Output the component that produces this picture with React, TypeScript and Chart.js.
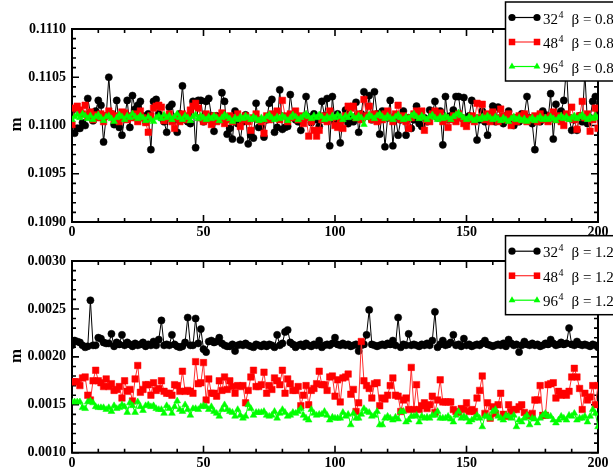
import { useEffect, useRef } from 'react';
import { Chart, registerables } from 'chart.js';

Chart.register(...registerables);

const SERIF = '"Liberation Serif", "Times New Roman", serif';

// ---- data (x = configuration index 0..200) ----
const topBlack = [
  0.11015, 0.10992, 0.10997, 0.10997, 0.11003, 0.11000, 0.11028, 0.11013, 0.11005, 0.11015,
  0.11026, 0.11021, 0.10983, 0.11010, 0.11050, 0.11012, 0.11001, 0.11026, 0.10998, 0.10990,
  0.11008, 0.11026, 0.10998, 0.11031, 0.11017, 0.11021, 0.11025, 0.11010, 0.11004, 0.11012,
  0.10975, 0.11025, 0.11027, 0.11012, 0.11008, 0.11004, 0.10993, 0.11019, 0.11022, 0.11006,
  0.10993, 0.11012, 0.11041, 0.11008, 0.11004, 0.11002, 0.11025, 0.10977, 0.11026, 0.11026,
  0.11004, 0.11025, 0.11028, 0.11010, 0.10994, 0.11010, 0.11006, 0.11034, 0.11025, 0.10991,
  0.10997, 0.10986, 0.11015, 0.11002, 0.10985, 0.11004, 0.11011, 0.10981, 0.10990, 0.10987,
  0.11023, 0.10998, 0.10998, 0.10988, 0.11006, 0.11023, 0.11027, 0.10993, 0.10998, 0.11037,
  0.10996, 0.10998, 0.10999, 0.11032, 0.11011, 0.11006, 0.11004, 0.10995, 0.11008, 0.11030,
  0.11009, 0.11003, 0.11012, 0.11006, 0.10999, 0.11025, 0.11010, 0.11028, 0.10979, 0.11030,
  0.11004, 0.11012, 0.10982, 0.11006, 0.11016, 0.11002, 0.11008, 0.11004, 0.11024, 0.10993,
  0.11012, 0.11035, 0.11010, 0.11031, 0.11006, 0.11035, 0.11012, 0.10991, 0.11015, 0.10978,
  0.11008, 0.11026, 0.10979, 0.11010, 0.10990, 0.11006, 0.11015, 0.10990, 0.11008, 0.10997,
  0.11006, 0.11020, 0.11002, 0.10999, 0.11008, 0.11004, 0.11016, 0.11012, 0.11025, 0.11008,
  0.11015, 0.10980, 0.11030, 0.11006, 0.11010, 0.11016, 0.11030, 0.11030, 0.11008, 0.11029,
  0.11004, 0.11010, 0.11026, 0.11008, 0.10985, 0.11006, 0.11015, 0.11004, 0.10990, 0.11008,
  0.11020, 0.11004, 0.11019, 0.11008, 0.11002, 0.11010, 0.11015, 0.11006, 0.11000, 0.11008,
  0.11004, 0.11012, 0.11011, 0.11030, 0.11008, 0.11002, 0.10975, 0.11006, 0.11004, 0.11015,
  0.11011, 0.11006, 0.11033, 0.10986, 0.11022, 0.11008, 0.11015, 0.11026, 0.11060, 0.11008,
  0.10995, 0.11006, 0.10995, 0.11010, 0.11004, 0.11055, 0.11002, 0.11008, 0.11025, 0.11030,
  0.11012,
];

const topRed = [
  0.11001, 0.11018, 0.11020, 0.11016, 0.11012, 0.11021, 0.11010, 0.11014, 0.11006, 0.11011,
  0.11008, 0.11012, 0.11004, 0.11010, 0.11015, 0.11012, 0.11006, 0.11010, 0.11004, 0.11014,
  0.11013, 0.11006, 0.11010, 0.11008, 0.11012, 0.11004, 0.11015, 0.11008, 0.11003, 0.10993,
  0.11010, 0.11018, 0.11020, 0.11021, 0.11019, 0.11005, 0.11008, 0.11012, 0.11004, 0.10997,
  0.11008, 0.11004, 0.11012, 0.11006, 0.11010, 0.11016, 0.11020, 0.11023, 0.11018, 0.11008,
  0.11004, 0.11012, 0.11006, 0.11001, 0.11010, 0.11004, 0.11008, 0.11013, 0.11002, 0.11006,
  0.11010, 0.11004, 0.11008, 0.11012, 0.10999, 0.11006, 0.11010, 0.11004, 0.10995, 0.11008,
  0.11012, 0.11006, 0.11004, 0.10992, 0.11010, 0.11006, 0.11012, 0.11008, 0.11015, 0.11006,
  0.11026, 0.11010, 0.11004, 0.11012, 0.11008, 0.11015, 0.11006, 0.11010, 0.11002, 0.11008,
  0.10989, 0.11004, 0.10995, 0.10989, 0.10995, 0.11006, 0.11010, 0.11004, 0.11015, 0.11008,
  0.11000, 0.10998, 0.11004, 0.10997, 0.11010, 0.11020, 0.11018, 0.11020, 0.11008, 0.11012,
  0.11006, 0.11027, 0.11010, 0.11020, 0.11006, 0.11012, 0.11004, 0.11010, 0.11006, 0.11012,
  0.11015, 0.11008, 0.11004, 0.11012, 0.11021, 0.11006, 0.11010, 0.11004, 0.10997, 0.11008,
  0.11012, 0.11015, 0.11010, 0.11015, 0.10995, 0.11006, 0.11004, 0.11012, 0.11015, 0.11010,
  0.11013, 0.11004, 0.11008, 0.10998, 0.11006, 0.11010, 0.11004, 0.11012, 0.11008, 0.11002,
  0.10999, 0.11006, 0.11010, 0.11004, 0.11023, 0.11008, 0.11022, 0.11006, 0.11012, 0.11004,
  0.11014, 0.11008, 0.11004, 0.11017, 0.11010, 0.11006, 0.11012, 0.11000, 0.11008, 0.11004,
  0.11010, 0.11006, 0.11012, 0.11004, 0.11008, 0.11006, 0.11010, 0.11004, 0.11012, 0.11006,
  0.11008, 0.11004, 0.11010, 0.11014, 0.11006, 0.11010, 0.11004, 0.11000, 0.11012, 0.11008,
  0.11019, 0.11006, 0.10996, 0.11010, 0.11025, 0.11008, 0.11012, 0.10994, 0.11006, 0.11018,
  0.10997,
];

const topGreen = [
  0.11006, 0.11009, 0.11011, 0.11008, 0.11012, 0.11010, 0.11007, 0.11010, 0.11006, 0.11009,
  0.11011, 0.11008, 0.11005, 0.11009, 0.11010, 0.11007, 0.11004, 0.11008, 0.11011, 0.11009,
  0.11006, 0.11010, 0.11008, 0.11012, 0.11009, 0.11007, 0.11010, 0.11008, 0.11005, 0.11009,
  0.11006, 0.11004, 0.11008, 0.11010, 0.11007, 0.11011, 0.11008, 0.11010, 0.11006, 0.11009,
  0.11012, 0.11008, 0.11006, 0.11010, 0.11008, 0.11005, 0.11009, 0.11011, 0.11007, 0.11010,
  0.11008, 0.11006, 0.11009, 0.11007, 0.11010, 0.11008, 0.11005, 0.11008, 0.11011, 0.11009,
  0.11007, 0.11004, 0.11008, 0.11006, 0.11009, 0.11007, 0.11010, 0.11008, 0.11006, 0.11009,
  0.11007, 0.11005, 0.11008, 0.11006, 0.11009, 0.11011, 0.11008, 0.11006, 0.11009, 0.11007,
  0.11010, 0.11008, 0.11005, 0.11008, 0.11011, 0.11009, 0.11006, 0.11008, 0.11010, 0.11012,
  0.11009, 0.11007, 0.11010, 0.11008, 0.11011, 0.11009, 0.11006, 0.11009, 0.11007, 0.11010,
  0.11008, 0.11011, 0.11009, 0.11006, 0.11010, 0.11008, 0.11012, 0.11009, 0.11007, 0.11010,
  0.11008, 0.11001, 0.11008, 0.11011, 0.11009, 0.11007, 0.11010, 0.11012, 0.11009, 0.11007,
  0.11010, 0.11008, 0.11006, 0.11009, 0.11011, 0.11008, 0.11006, 0.11009, 0.11007, 0.11010,
  0.11012, 0.11009, 0.11007, 0.11010, 0.11008, 0.11006, 0.11009, 0.11011, 0.11008, 0.11006,
  0.11009, 0.11007, 0.11010, 0.11008, 0.11006, 0.11009, 0.11011, 0.11013, 0.11010, 0.11008,
  0.11006, 0.11009, 0.11007, 0.11005, 0.11008, 0.11006, 0.11009, 0.11007, 0.11010, 0.11008,
  0.11006, 0.11009, 0.11007, 0.11005, 0.11008, 0.11006, 0.11004, 0.11007, 0.11009, 0.11006,
  0.11008, 0.11005, 0.11007, 0.11004, 0.11006, 0.11008, 0.11005, 0.11007, 0.11009, 0.11006,
  0.11008, 0.11006, 0.11009, 0.11007, 0.11005, 0.11008, 0.11010, 0.11007, 0.11009, 0.11006,
  0.11008, 0.11010, 0.11007, 0.11009, 0.11011, 0.11008, 0.11006, 0.11009, 0.11007, 0.11010,
  0.11008,
];

const botBlack = [
  0.00212, 0.00217, 0.00216, 0.00215, 0.00212, 0.00210, 0.00211, 0.00259, 0.00212, 0.00212,
  0.00220, 0.00219, 0.00215, 0.00214, 0.00214, 0.00224, 0.00211, 0.00215, 0.00213, 0.00223,
  0.00212, 0.00215, 0.00213, 0.00211, 0.00214, 0.00212, 0.00213, 0.00215, 0.00211, 0.00213,
  0.00212, 0.00216, 0.00212, 0.00218, 0.00238, 0.00212, 0.00213, 0.00212, 0.00223, 0.00213,
  0.00211, 0.00210, 0.00211, 0.00215, 0.00241, 0.00212, 0.00212, 0.00240, 0.00214, 0.00229,
  0.00208, 0.00205, 0.00216, 0.00217, 0.00215, 0.00216, 0.00220, 0.00214, 0.00212, 0.00211,
  0.00211, 0.00213, 0.00206, 0.00212, 0.00213, 0.00212, 0.00214, 0.00212, 0.00211, 0.00210,
  0.00213, 0.00212, 0.00211, 0.00213, 0.00211, 0.00213, 0.00212, 0.00210, 0.00223, 0.00212,
  0.00214, 0.00226, 0.00228, 0.00215, 0.00213, 0.00210, 0.00212, 0.00213, 0.00211, 0.00214,
  0.00212, 0.00211, 0.00213, 0.00212, 0.00217, 0.00210, 0.00212, 0.00213, 0.00212, 0.00214,
  0.00220, 0.00213, 0.00212, 0.00214, 0.00212, 0.00213, 0.00211, 0.00212, 0.00213, 0.00206,
  0.00212, 0.00213, 0.00223, 0.00249, 0.00213, 0.00212, 0.00211, 0.00212, 0.00213, 0.00212,
  0.00214, 0.00213, 0.00217, 0.00212, 0.00241, 0.00210, 0.00213, 0.00212, 0.00224, 0.00212,
  0.00213, 0.00212, 0.00211, 0.00213, 0.00212, 0.00214, 0.00212, 0.00217, 0.00247, 0.00210,
  0.00213, 0.00217, 0.00212, 0.00213, 0.00215, 0.00223, 0.00212, 0.00213, 0.00211, 0.00219,
  0.00212, 0.00213, 0.00211, 0.00212, 0.00213, 0.00212, 0.00214, 0.00217, 0.00213, 0.00212,
  0.00211, 0.00212, 0.00213, 0.00212, 0.00214, 0.00211, 0.00218, 0.00214, 0.00212, 0.00213,
  0.00205, 0.00212, 0.00216, 0.00213, 0.00212, 0.00214, 0.00212, 0.00213, 0.00211, 0.00212,
  0.00214, 0.00213, 0.00218, 0.00214, 0.00212, 0.00213, 0.00215, 0.00213, 0.00214, 0.00230,
  0.00213, 0.00212, 0.00216, 0.00213, 0.00212, 0.00213, 0.00212, 0.00211, 0.00213, 0.00212,
  0.00210,
];

const botRed = [
  0.00174, 0.00174, 0.00174, 0.00170, 0.00178, 0.00179, 0.00160, 0.00155, 0.00175, 0.00186,
  0.00175, 0.00173, 0.00169, 0.00177, 0.00169, 0.00172, 0.00165, 0.00166, 0.00169, 0.00157,
  0.00175, 0.00164, 0.00166, 0.00154, 0.00177, 0.00191, 0.00163, 0.00166, 0.00171, 0.00171,
  0.00160, 0.00173, 0.00165, 0.00167, 0.00175, 0.00164, 0.00162, 0.00162, 0.00160, 0.00171,
  0.00170, 0.00164, 0.00185, 0.00164, 0.00165, 0.00164, 0.00162, 0.00195, 0.00172, 0.00173,
  0.00194, 0.00155, 0.00177, 0.00162, 0.00162, 0.00159, 0.00175, 0.00165, 0.00179, 0.00166,
  0.00175, 0.00169, 0.00162, 0.00170, 0.00169, 0.00170, 0.00152, 0.00165, 0.00179, 0.00186,
  0.00169, 0.00169, 0.00171, 0.00184, 0.00162, 0.00170, 0.00166, 0.00178, 0.00175, 0.00171,
  0.00186, 0.00162, 0.00177, 0.00172, 0.00165, 0.00165, 0.00169, 0.00149, 0.00160, 0.00170,
  0.00150, 0.00165, 0.00167, 0.00172, 0.00185, 0.00171, 0.00171, 0.00165, 0.00179, 0.00180,
  0.00159, 0.00176, 0.00153, 0.00178, 0.00179, 0.00182, 0.00161, 0.00166, 0.00143, 0.00152,
  0.00216, 0.00175, 0.00170, 0.00167, 0.00157, 0.00172, 0.00173, 0.00149, 0.00157, 0.00156,
  0.00160, 0.00170, 0.00178, 0.00160, 0.00159, 0.00143, 0.00155, 0.00157, 0.00145, 0.00189,
  0.00145, 0.00171, 0.00145, 0.00149, 0.00152, 0.00146, 0.00150, 0.00159, 0.00142, 0.00155,
  0.00176, 0.00153, 0.00153, 0.00153, 0.00153, 0.00145, 0.00143, 0.00142, 0.00146, 0.00145,
  0.00152, 0.00143, 0.00145, 0.00143, 0.00157, 0.00165, 0.00180, 0.00141, 0.00152, 0.00136,
  0.00148, 0.00141, 0.00150, 0.00162, 0.00140, 0.00138, 0.00150, 0.00143, 0.00145, 0.00145,
  0.00148, 0.00150, 0.00142, 0.00139, 0.00139, 0.00141, 0.00155, 0.00155, 0.00170, 0.00139,
  0.00139, 0.00171, 0.00172, 0.00173, 0.00157, 0.00164, 0.00160, 0.00162, 0.00160, 0.00164,
  0.00179, 0.00188, 0.00179, 0.00167, 0.00145, 0.00162, 0.00155, 0.00158, 0.00170, 0.00150,
  0.00170,
];

const botGreen = [
  0.00153, 0.00153, 0.00153, 0.00153, 0.00147, 0.00146, 0.00153, 0.00154, 0.00152, 0.00148,
  0.00147, 0.00147, 0.00147, 0.00145, 0.00147, 0.00143, 0.00149, 0.00146, 0.00147, 0.00150,
  0.00148, 0.00142, 0.00152, 0.00149, 0.00142, 0.00153, 0.00148, 0.00144, 0.00149, 0.00150,
  0.00148, 0.00149, 0.00146, 0.00145, 0.00145, 0.00141, 0.00149, 0.00146, 0.00141, 0.00148,
  0.00154, 0.00145, 0.00143, 0.00150, 0.00145, 0.00139, 0.00146, 0.00146, 0.00145, 0.00148,
  0.00149, 0.00148, 0.00145, 0.00148, 0.00143, 0.00141, 0.00138, 0.00145, 0.00150, 0.00145,
  0.00143, 0.00142, 0.00138, 0.00145, 0.00139, 0.00136, 0.00138, 0.00150, 0.00146, 0.00139,
  0.00142, 0.00142, 0.00142, 0.00143, 0.00139, 0.00138, 0.00139, 0.00143, 0.00136, 0.00141,
  0.00145, 0.00142, 0.00138, 0.00139, 0.00142, 0.00141, 0.00143, 0.00146, 0.00139, 0.00136,
  0.00134, 0.00145, 0.00141, 0.00139, 0.00140, 0.00140, 0.00143, 0.00139, 0.00134, 0.00137,
  0.00136, 0.00136, 0.00136, 0.00142, 0.00138, 0.00140, 0.00129, 0.00141, 0.00136, 0.00136,
  0.00140, 0.00146, 0.00143, 0.00142, 0.00138, 0.00139, 0.00143, 0.00129, 0.00129, 0.00136,
  0.00138, 0.00136, 0.00134, 0.00137, 0.00135, 0.00143, 0.00143, 0.00132, 0.00134, 0.00138,
  0.00138, 0.00139, 0.00132, 0.00138, 0.00136, 0.00137, 0.00136, 0.00139, 0.00139, 0.00143,
  0.00136, 0.00136, 0.00136, 0.00138, 0.00135, 0.00132, 0.00139, 0.00143, 0.00136, 0.00138,
  0.00136, 0.00132, 0.00134, 0.00136, 0.00139, 0.00136, 0.00127, 0.00138, 0.00138, 0.00136,
  0.00143, 0.00145, 0.00138, 0.00136, 0.00134, 0.00139, 0.00138, 0.00136, 0.00139, 0.00127,
  0.00134, 0.00132, 0.00136, 0.00139, 0.00129, 0.00136, 0.00135, 0.00131, 0.00136, 0.00139,
  0.00141, 0.00138, 0.00138, 0.00134, 0.00131, 0.00134, 0.00138, 0.00136, 0.00134, 0.00139,
  0.00138, 0.00141, 0.00134, 0.00136, 0.00136, 0.00138, 0.00132, 0.00138, 0.00145, 0.00141,
  0.00127,
];

const latticeSizes = ['32', '48', '96'];
const topBeta = '0.8';
const botBeta = '1.2';
const xTickLabels = [0, 50, 100, 150, 200];
const topYRange = [0.109, 0.111];
const botYRange = [0.001, 0.003];
const yTitle = 'm';

// ---- styles ----
const STYLES = [
  { shape: 'circle', fill: '#000000', line: '#000000', r: 3.6, order: 3 },
  { shape: 'rect', fill: '#ff0000', line: '#ff3030', r: 4.6, order: 2 },
  { shape: 'triangle', fill: '#00ff00', line: '#00ff00', r: 3.9, order: 1 },
];

function drawMarker(ctx: CanvasRenderingContext2D, shape: string, x: number, y: number, r: number, color: string) {
  ctx.fillStyle = color;
  ctx.beginPath();
  if (shape === 'circle') {
    ctx.arc(x, y, r, 0, Math.PI * 2);
  } else if (shape === 'rect') {
    const s = Math.SQRT1_2 * r;
    ctx.rect(x - s, y - s, 2 * s, 2 * s);
  } else {
    for (let k = 0; k < 3; k++) {
      const a = (k * 2 * Math.PI) / 3;
      const px = x + Math.sin(a) * r;
      const py = y - Math.cos(a) * r;
      if (k === 0) ctx.moveTo(px, py);
      else ctx.lineTo(px, py);
    }
    ctx.closePath();
  }
  ctx.fill();
}

interface PanelCfg {
  series: number[][];
  yRange: number[];
  padTop: number;
  axisH: number;
  legendTop: number;
  beta: string;
}

function makeChart(canvas: HTMLCanvasElement, cfg: PanelCfg) {
  const datasets = STYLES.map((st, i) => ({
    label: latticeSizes[i],
    data: cfg.series[i].map((v, k) => ({ x: k, y: v })),
    showLine: true,
    borderColor: st.line,
    backgroundColor: st.fill,
    borderWidth: 1,
    pointStyle: st.shape,
    pointRadius: st.r,
    pointHoverRadius: st.r,
    pointBackgroundColor: st.fill,
    pointBorderColor: st.fill,
    pointBorderWidth: 0.5,
    tension: 0,
    order: st.order,
  }));

  const framePlugin = {
    id: 'frame',
    beforeDatasetsDraw(chart: any) {
      const { ctx, chartArea } = chart;
      const { left, right, top, bottom } = chartArea;
      const xs = chart.scales.x;
      const ys = chart.scales.y;
      ctx.save();
      ctx.strokeStyle = '#000';
      ctx.lineWidth = 1.6;
      for (let v = 0; v <= 200; v += 10) {
        const px = xs.getPixelForValue(v);
        const len = v % 50 === 0 ? 7 : 4;
        ctx.beginPath();
        ctx.moveTo(px, bottom);
        ctx.lineTo(px, bottom - len);
        ctx.moveTo(px, top);
        ctx.lineTo(px, top + len);
        ctx.stroke();
      }
      const [y0, y1] = cfg.yRange;
      const n = Math.round((y1 - y0) / 0.0001);
      for (let k = 0; k <= n; k++) {
        const py = ys.getPixelForValue(y0 + k * 0.0001);
        const len = k % 5 === 0 ? 7 : 4;
        ctx.beginPath();
        ctx.moveTo(left, py);
        ctx.lineTo(left + len, py);
        ctx.moveTo(right, py);
        ctx.lineTo(right - len, py);
        ctx.stroke();
      }
      ctx.lineWidth = 2;
      ctx.strokeRect(left, top, right - left, bottom - top);
      ctx.restore();
    },
    afterDraw(chart: any) {
      const { ctx, chartArea } = chart;
      ctx.save();
      // y title
      ctx.translate(16.7, (chartArea.top + chartArea.bottom) / 2 - 1);
      ctx.rotate(-Math.PI / 2);
      ctx.fillStyle = '#000';
      ctx.font = `bold 17px ${SERIF}`;
      ctx.textAlign = 'center';
      ctx.textBaseline = 'middle';
      ctx.fillText(yTitle, 0, 0);
      ctx.restore();

      // legend
      ctx.save();
      const bx = 505.5;
      const by = cfg.legendTop;
      ctx.fillStyle = '#fff';
      ctx.fillRect(bx, by, 140, 79);
      ctx.strokeStyle = '#000';
      ctx.lineWidth = 1.5;
      ctx.strokeRect(bx, by, 140, 79);
      STYLES.forEach((st, i) => {
        const yy = by + 15.5 + i * 24.5;
        ctx.strokeStyle = st.line;
        ctx.lineWidth = 1.2;
        ctx.beginPath();
        ctx.moveTo(512, yy);
        ctx.lineTo(537, yy);
        ctx.stroke();
        drawMarker(ctx, st.shape, 512, yy, st.r, st.fill);
        drawMarker(ctx, st.shape, 537, yy, st.r, st.fill);
        ctx.fillStyle = '#000';
        ctx.textAlign = 'left';
        ctx.textBaseline = 'alphabetic';
        ctx.font = `15px ${SERIF}`;
        const tx = 543;
        ctx.fillText(latticeSizes[i], tx, yy + 6);
        const w = ctx.measureText(latticeSizes[i]).width;
        ctx.font = `10px ${SERIF}`;
        ctx.fillText('4', tx + w + 0.5, yy);
        ctx.font = `15px ${SERIF}`;
        ctx.fillText('\u03B2 = ' + cfg.beta, 571.5, yy + 6);
      });
      ctx.restore();
    },
  };

  const tickFont = { family: SERIF, size: 14, weight: 'bold' as const };

  return new Chart(canvas, {
    type: 'scatter',
    data: { datasets: datasets as any },
    options: {
      animation: false,
      responsive: false,
      events: [],
      layout: { padding: { left: 0, right: 15, top: cfg.padTop, bottom: 0 } },
      plugins: {
        legend: { display: false },
        tooltip: { enabled: false },
      },
      scales: {
        x: {
          type: 'linear',
          min: xTickLabels[0],
          max: xTickLabels[xTickLabels.length - 1],
          grid: { display: false, drawTicks: false },
          border: { display: false },
          afterFit: (s: any) => {
            s.height = cfg.axisH;
          },
          afterBuildTicks: (s: any) => {
            s.ticks = xTickLabels.map((v) => ({ value: v }));
          },
          ticks: {
            color: '#000',
            font: tickFont,
            padding: 2,
            maxRotation: 0,
            autoSkip: false,
            callback: (v: any) => String(v),
          },
        },
        y: {
          type: 'linear',
          min: cfg.yRange[0],
          max: cfg.yRange[1],
          grid: { display: false, drawTicks: false },
          border: { display: false },
          afterFit: (s: any) => {
            s.width = 72;
          },
          ticks: {
            color: '#000',
            font: tickFont,
            padding: 6,
            stepSize: 0.0005,
            callback: (v: any) => Number(v).toFixed(4),
          },
        },
      },
    } as any,
    plugins: [framePlugin],
  });
}

export default function App() {
  const topRef = useRef<HTMLCanvasElement>(null);
  const botRef = useRef<HTMLCanvasElement>(null);

  useEffect(() => {
    const c1 = makeChart(topRef.current!, {
      series: [topBlack, topRed, topGreen],
      yRange: topYRange,
      padTop: 29,
      axisH: 18,
      legendTop: 2,
      beta: topBeta,
    });
    const c2 = makeChart(botRef.current!, {
      series: [botBlack, botRed, botGreen],
      yRange: botYRange,
      padTop: 31,
      axisH: 21.3,
      legendTop: 5.7,
      beta: botBeta,
    });
    return () => {
      c1.destroy();
      c2.destroy();
    };
  }, []);

  return (
    <div style={{ position: 'absolute', left: 0, top: 0, width: 613, height: 474, background: '#fff', overflow: 'hidden' }}>
      <canvas ref={topRef} width={613} height={240} style={{ position: 'absolute', left: 0, top: 0 }} />
      <canvas ref={botRef} width={613} height={244} style={{ position: 'absolute', left: 0, top: 230 }} />
    </div>
  );
}
